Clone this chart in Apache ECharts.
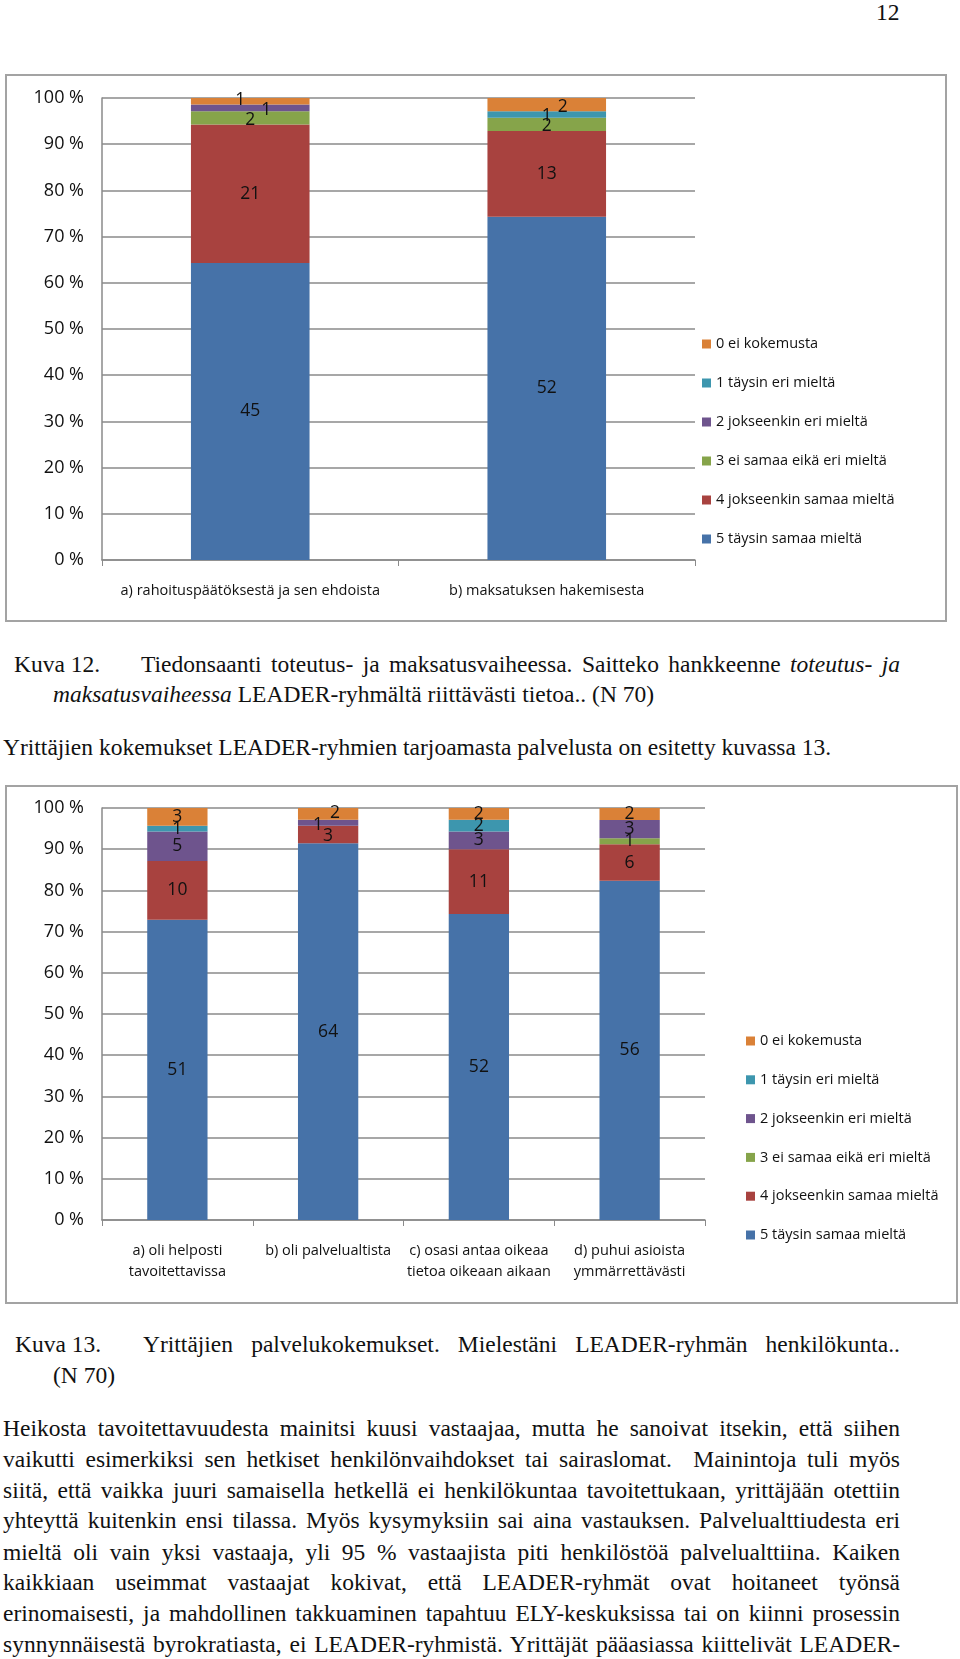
<!DOCTYPE html>
<html><head><meta charset="utf-8">
<script src="https://cdn.jsdelivr.net/npm/echarts@6/dist/echarts.min.js"></script>
<style>
html,body{margin:0;padding:0;background:#fff;}
#page{position:relative;width:960px;height:1659px;overflow:hidden;background:#fff;}
.box{position:absolute;box-sizing:border-box;border:2px solid #a3a3a3;}
.ch{position:absolute;}
.t{position:absolute;font-family:'Liberation Serif',serif;font-size:23.5px;line-height:30px;color:#111;white-space:nowrap;}
.j{text-align:justify;text-align-last:justify;}
</style></head>
<body><div id="page">
<div class="t" style="left:876px;top:-3px;">12</div>

<div class="box" style="left:5px;top:74px;width:942px;height:548px;"></div>
<div id="c1" class="ch" style="left:5px;top:74px;width:942px;height:548px;"></div>

<div class="t" style="left:14px;top:649px;">Kuva 12.</div>
<div class="t j" style="left:141px;top:649px;width:759px;">Tiedonsaanti toteutus- ja maksatusvaiheessa. Saitteko hankkeenne <i>toteutus- ja</i></div>
<div class="t" style="left:53px;top:679px;"><i>maksatusvaiheessa</i> LEADER-ryhmältä riittävästi tietoa.. (N 70)</div>
<div class="t" style="left:3px;top:732px;">Yrittäjien kokemukset LEADER-ryhmien tarjoamasta palvelusta on esitetty kuvassa 13.</div>

<div class="box" style="left:5px;top:785px;width:953px;height:519px;"></div>
<div id="c2" class="ch" style="left:5px;top:785px;width:953px;height:519px;"></div>

<div class="t" style="left:15px;top:1329px;">Kuva 13.</div>
<div class="t j" style="left:143px;top:1329px;width:757px;">Yrittäjien palvelukokemukset. Mielestäni LEADER-ryhmän henkilökunta..</div>
<div class="t" style="left:53px;top:1360px;">(N 70)</div>

<div class="t j" style="left:3px;top:1413px;width:897px;">Heikosta tavoitettavuudesta mainitsi kuusi vastaajaa, mutta he sanoivat itsekin, että siihen</div>
<div class="t j" style="left:3px;top:1444px;width:897px;">vaikutti esimerkiksi sen hetkiset henkilönvaihdokset tai sairaslomat.&nbsp; Mainintoja tuli myös</div>
<div class="t j" style="left:3px;top:1475px;width:897px;">siitä, että vaikka juuri samaisella hetkellä ei henkilökuntaa tavoitettukaan, yrittäjään otettiin</div>
<div class="t j" style="left:3px;top:1505px;width:897px;">yhteyttä kuitenkin ensi tilassa. Myös kysymyksiin sai aina vastauksen. Palvelualttiudesta eri</div>
<div class="t j" style="left:3px;top:1537px;width:897px;">mieltä oli vain yksi vastaaja, yli 95 % vastaajista piti henkilöstöä palvelualttiina. Kaiken</div>
<div class="t j" style="left:3px;top:1567px;width:897px;">kaikkiaan useimmat vastaajat kokivat, että LEADER-ryhmät ovat hoitaneet työnsä</div>
<div class="t j" style="left:3px;top:1598px;width:897px;">erinomaisesti, ja mahdollinen takkuaminen tapahtuu ELY-keskuksissa tai on kiinni prosessin</div>
<div class="t j" style="left:3px;top:1629px;width:897px;">synnynnäisestä byrokratiasta, ei LEADER-ryhmistä. Yrittäjät pääasiassa kiittelivät LEADER-</div>
</div>
<script>
// ---- data ----
var seriesNames = ['5 täysin samaa mieltä','4 jokseenkin samaa mieltä','3 ei samaa eikä eri mieltä','2 jokseenkin eri mieltä','1 täysin eri mieltä','0 ei kokemusta'];
var legendOrder = ['0 ei kokemusta','1 täysin eri mieltä','2 jokseenkin eri mieltä','3 ei samaa eikä eri mieltä','4 jokseenkin samaa mieltä','5 täysin samaa mieltä'];
var colors = ['#4672A8','#A8423F','#86A44A','#6E548D','#3D96AE','#DA8137'];
var yTicks = ['0 %','10 %','20 %','30 %','40 %','50 %','60 %','70 %','80 %','90 %','100 %'];

var cats1 = ['a) rahoituspäätöksestä ja sen ehdoista','b) maksatuksen hakemisesta'];
var c1_s5 = [45, 52];
var c1_s4 = [21, 13];
var c1_s3 = [2, 2];
var c1_s2 = [1, 0];
var c1_s1 = [0, 1];
var c1_s0 = [1, 2];

var cats2 = ['a) oli helposti\ntavoitettavissa','b) oli palvelualtista','c) osasi antaa oikeaa\ntietoa oikeaan aikaan','d) puhui asioista\nymmärrettävästi'];
var c2_s5 = [51, 64, 52, 56];
var c2_s4 = [10, 3, 11, 6];
var c2_s3 = [0, 0, 0, 1];
var c2_s2 = [5, 1, 3, 3];
var c2_s1 = [1, 0, 2, 0];
var c2_s0 = [3, 2, 2, 2];

// label nudges for crowded small segments (style only): [seriesIndex][categoryIndex] -> [dx, dy]
var nudge1 = {2: [[0,2],[0,2]], 3: [[16,2],null], 4: [null,[0,2]], 5: [[-10,-1],[16,2]]};
var nudge2 = {1: [null,[0,2],null,null], 3: [null,[-10,2],null,null], 5: [null,[7,-1],null,null]};

var FONT = '"Open Sans", sans-serif';

function build(cats, raw, grid, legend, xLabelMargin, nudge){
  var n = cats.length;
  var totals = [];
  for (var i=0;i<n;i++){ var s=0; raw.forEach(function(a){s+=a[i];}); totals.push(s); }
  var series = raw.map(function(arr, k){
    return {
      name: seriesNames[k], type:'bar', stack:'all', barWidth:'40%',
      itemStyle:{color:colors[k]},
      data: arr.map(function(v,i){ return {value: v/totals[i]*100, raw: v}; }),
      label:{show:true, position:'inside', color:'#111', fontFamily:FONT, fontSize:17.5,
        formatter:function(p){ return p.data.raw ? String(p.data.raw) : ''; }},
      labelLayout:function(p){
        var o = nudge[k] && nudge[k][p.dataIndex];
        return o ? {dx:o[0], dy:o[1], hideOverlap:false} : {hideOverlap:false};
      }
    };
  });
  return {
    animation:false,
    grid: grid,
    legend: Object.assign({orient:'vertical', data:legendOrder, icon:'rect', itemWidth:9, itemHeight:9, itemGap:23,
      textStyle:{fontFamily:FONT, fontSize:14.5, color:'#111', lineHeight:16}, selectedMode:false}, legend),
    xAxis:{type:'category', data:cats,
      axisLine:{lineStyle:{color:'#8a8a8a', width:1.5}},
      axisTick:{show:true, alignWithLabel:false, length:6, lineStyle:{color:'#8a8a8a'}},
      axisLabel:{color:'#111', fontFamily:FONT, fontSize:14.5, lineHeight:21, margin:xLabelMargin, interval:0}},
    yAxis:{type:'value', min:0, max:100, interval:10,
      axisLine:{show:true, lineStyle:{color:'#8a8a8a', width:1.5}},
      axisTick:{show:false},
      splitLine:{lineStyle:{color:'#8a8a8a', width:1.5}},
      axisLabel:{color:'#111', fontFamily:FONT, fontSize:18, margin:18,
        formatter:function(v){ return yTicks[Math.round(v/10)]; }}},
    series: series
  };
}

var ch1 = echarts.init(document.getElementById('c1'));
ch1.setOption(build(cats1, [c1_s5,c1_s4,c1_s3,c1_s2,c1_s1,c1_s0],
  {left:97, top:24, width:593, height:462},
  {left:692, top:257, itemGap:23}, 20, nudge1));

var ch2 = echarts.init(document.getElementById('c2'));
ch2.setOption(build(cats2, [c2_s5,c2_s4,c2_s3,c2_s2,c2_s1,c2_s0],
  {left:97, top:23, width:603, height:412},
  {left:736, top:243, itemGap:22.8}, 20, nudge2));
</script>
</body></html>
